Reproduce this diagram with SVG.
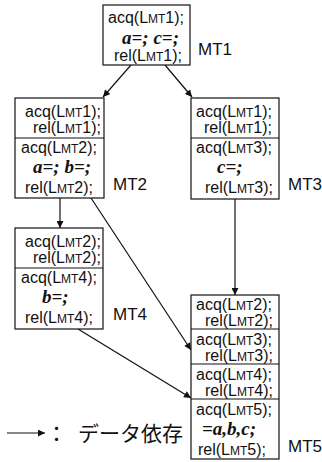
<svg xmlns="http://www.w3.org/2000/svg" width="322" height="462" viewBox="0 0 322 462">
<style>
.box{fill:#fff;stroke:#111;stroke-width:1.2}
.div{stroke:#111;stroke-width:1.2}
.t{font-family:"Liberation Sans",Arial,sans-serif;font-size:16px;fill:#111}
.s{font-size:12px}
.v{font-family:"Liberation Serif","Times New Roman",serif;font-size:19px;font-weight:bold;font-style:italic;fill:#111}
.lbl{font-family:"Liberation Sans",Arial,sans-serif;font-size:17px;fill:#111}
.c{stroke:#111;stroke-width:1.2;fill:none;marker-end:url(#ah)}
.jp{font-family:"Noto Sans CJK JP",sans-serif;font-size:21px;fill:#111}
</style>
<defs>
<marker id="ah" viewBox="0 0 10 10" refX="10" refY="5" markerWidth="8" markerHeight="7" markerUnits="userSpaceOnUse" orient="auto">
<path d="M0,0 L10,5 L0,10 z" fill="#111"/>
</marker>
</defs>
<rect width="322" height="462" fill="#fff"/>
<g id="connectors">
<line class="c" x1="131" y1="65" x2="103" y2="97"/>
<line class="c" x1="165" y1="65" x2="192" y2="97"/>
<line class="c" x1="60" y1="198" x2="60" y2="228"/>
<line class="c" x1="91" y1="198" x2="191" y2="350"/>
<line class="c" x1="235" y1="199" x2="235" y2="295"/>
<line class="c" x1="78" y1="329" x2="191" y2="398"/>
</g>
<g id="MT1">
<rect class="box" x="103" y="5" width="87" height="60"/>
<text class="t" x="108" y="23">acq(L<tspan class="s">MT</tspan>1);</text>
<text class="v" x="122" y="44">a=; c=;</text>
<text class="t" x="114" y="61">rel(L<tspan class="s">MT</tspan>1);</text>
<text class="lbl" x="198" y="55">MT1</text>
</g>
<g id="MT2">
<rect class="box" x="15" y="98" width="89" height="100"/>
<line class="div" x1="15" y1="138" x2="104" y2="138"/>
<text class="t" x="25" y="117">acq(L<tspan class="s">MT</tspan>1);</text>
<text class="t" x="33" y="133">rel(L<tspan class="s">MT</tspan>1);</text>
<text class="t" x="21" y="153">acq(L<tspan class="s">MT</tspan>2);</text>
<text class="v" x="33" y="173">a=; b=;</text>
<text class="t" x="25" y="193">rel(L<tspan class="s">MT</tspan>2);</text>
<text class="lbl" x="113" y="190">MT2</text>
</g>
<g id="MT3">
<rect class="box" x="191" y="98" width="88" height="101"/>
<line class="div" x1="191" y1="138" x2="279" y2="138"/>
<text class="t" x="196" y="117">acq(L<tspan class="s">MT</tspan>1);</text>
<text class="t" x="204" y="133">rel(L<tspan class="s">MT</tspan>1);</text>
<text class="t" x="196" y="153">acq(L<tspan class="s">MT</tspan>3);</text>
<text class="v" x="217" y="173">c=;</text>
<text class="t" x="205" y="193">rel(L<tspan class="s">MT</tspan>3);</text>
<text class="lbl" x="288" y="190">MT3</text>
</g>
<g id="MT4">
<rect class="box" x="15" y="228" width="88" height="101"/>
<line class="div" x1="15" y1="268" x2="103" y2="268"/>
<text class="t" x="25" y="247">acq(L<tspan class="s">MT</tspan>2);</text>
<text class="t" x="33" y="263">rel(L<tspan class="s">MT</tspan>2);</text>
<text class="t" x="21" y="283">acq(L<tspan class="s">MT</tspan>4);</text>
<text class="v" x="42" y="303">b=;</text>
<text class="t" x="25" y="323">rel(L<tspan class="s">MT</tspan>4);</text>
<text class="lbl" x="113" y="320">MT4</text>
</g>
<g id="MT5">
<rect class="box" x="191" y="295" width="88" height="164"/>
<line class="div" x1="191" y1="329" x2="279" y2="329"/>
<line class="div" x1="191" y1="364" x2="279" y2="364"/>
<line class="div" x1="191" y1="399" x2="279" y2="399"/>
<text class="t" x="196" y="310">acq(L<tspan class="s">MT</tspan>2);</text>
<text class="t" x="205" y="326">rel(L<tspan class="s">MT</tspan>2);</text>
<text class="t" x="196" y="345">acq(L<tspan class="s">MT</tspan>3);</text>
<text class="t" x="205" y="361">rel(L<tspan class="s">MT</tspan>3);</text>
<text class="t" x="196" y="380">acq(L<tspan class="s">MT</tspan>4);</text>
<text class="t" x="205" y="396">rel(L<tspan class="s">MT</tspan>4);</text>
<text class="t" x="196" y="415">acq(L<tspan class="s">MT</tspan>5);</text>
<text class="v" x="202" y="435">=a,b,c;</text>
<text class="t" x="198" y="455">rel(L<tspan class="s">MT</tspan>5);</text>
<text class="lbl" x="288" y="452">MT5</text>
</g>
<g id="legend">
<line class="c" x1="7" y1="433" x2="45" y2="433"/>
<text class="jp" y="441"><tspan x="46">：</tspan><tspan x="78">データ依存</tspan></text>
</g>
</svg>
